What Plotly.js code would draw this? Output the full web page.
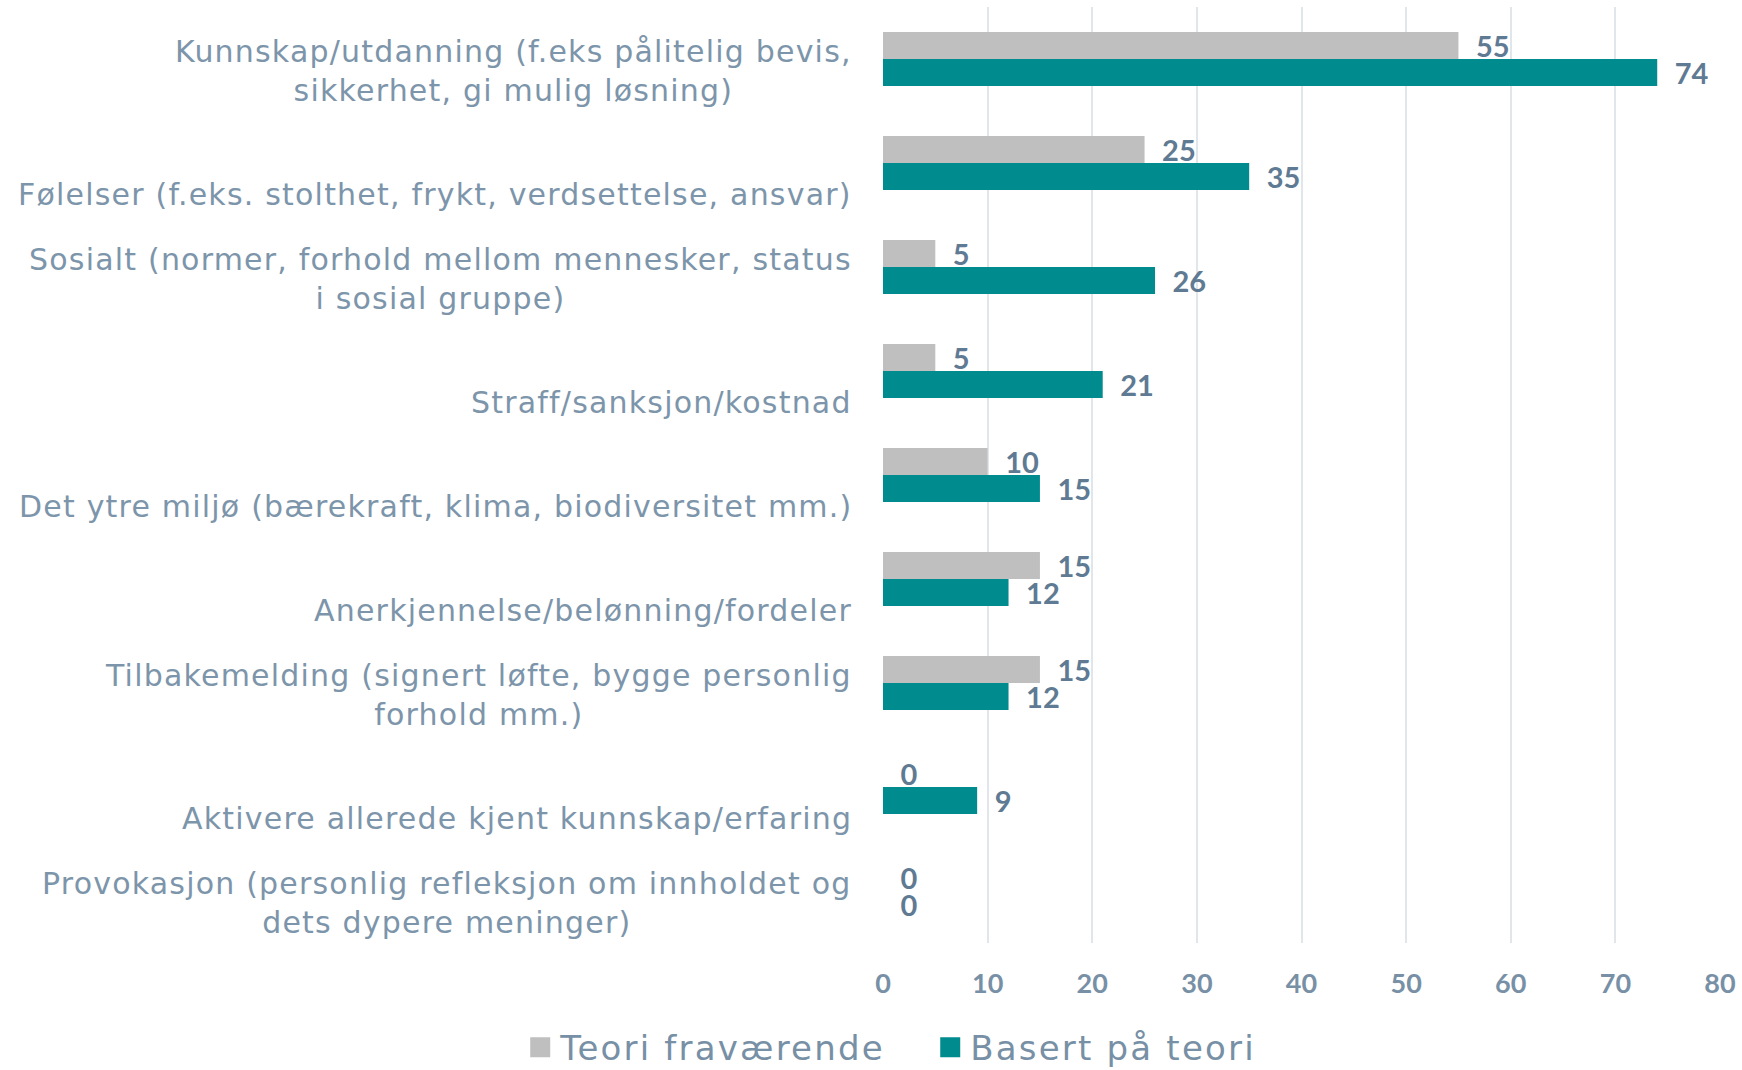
<!DOCTYPE html>
<html>
<head>
<meta charset="utf-8">
<script src="https://cdn.plot.ly/plotly-3.0.1.min.js"></script>
<style>
html,body{margin:0;padding:0;background:#fff;}
#chart{width:1742px;height:1070px;}
.annotation-text{letter-spacing:1.2px;}
.legendtext{letter-spacing:2.2px;}
.legend .legendpoints path{d:path("M10,10H-10V-10H10Z");}
</style>
</head>
<body>
<div id="chart"></div>
<script>
const categories = [
  "Kunnskap/utdanning (f.eks pålitelig bevis,<br>sikkerhet, gi mulig løsning)",
  "Følelser (f.eks. stolthet, frykt, verdsettelse, ansvar)",
  "Sosialt (normer, forhold mellom mennesker, status<br>i sosial gruppe)",
  "Straff/sanksjon/kostnad",
  "Det ytre miljø (bærekraft, klima, biodiversitet mm.)",
  "Anerkjennelse/belønning/fordeler",
  "Tilbakemelding (signert løfte, bygge personlig<br>forhold mm.)",
  "Aktivere allerede kjent kunnskap/erfaring",
  "Provokasjon (personlig refleksjon om innholdet og<br>dets dypere meninger)"
];
const teoriFravaerende = [55, 25, 5, 5, 10, 15, 15, 0, 0];
const basertPaaTeori = [74, 35, 26, 21, 15, 12, 12, 9, 0];
const seriesNames = ["Teori fraværende", "Basert på teori"];
const xTicks = [0, 10, 20, 30, 40, 50, 60, 70, 80];

const labelFont = {family: "Lato, sans-serif", size: 29, color: "#5f7a93", weight: 700};

const traces = [
  {
    type: "bar", orientation: "h", name: seriesNames[0],
    x: teoriFravaerende, y: categories,
    marker: {color: "#bfbfbf"},
    texttemplate: "\u2002%{x}",
    textposition: "outside", cliponaxis: false, constraintext: "none",
    textfont: labelFont, hoverinfo: "x+name"
  },
  {
    type: "bar", orientation: "h", name: seriesNames[1],
    x: basertPaaTeori, y: categories,
    marker: {color: "#008b8f"},
    texttemplate: "\u2002%{x}",
    textposition: "outside", cliponaxis: false, constraintext: "none",
    textfont: labelFont, hoverinfo: "x+name"
  }
];

const annotations = categories.map((c, i) => ({
  xref: "paper", yref: "y", x: 0, y: i,
  xanchor: "right", yanchor: "bottom", align: "center",
  xshift: -29, yshift: -51,
  text: c, showarrow: false,
  font: {family: "DejaVu Sans, Verdana, sans-serif", size: 30, color: "#7d95aa"}
}));

const layout = {
  width: 1742, height: 1070,
  margin: {l: 883, r: 22, t: 7, b: 127, pad: 0},
  paper_bgcolor: "#ffffff", plot_bgcolor: "#ffffff",
  barmode: "group", bargap: 0.48, bargroupgap: 0,
  showlegend: true,
  legend: {
    orientation: "h", xref: "container", yref: "container",
    x: 0.534, xanchor: "center", y: 0.021, yanchor: "middle",
    font: {family: "DejaVu Sans, Verdana, sans-serif", size: 34, color: "#7790a5"},
    itemwidth: 30, traceorder: "normal", entrywidth: 365, entrywidthmode: "pixels"
  },
  xaxis: {
    range: [0, 80], tickvals: xTicks, ticktext: xTicks.map(String),
    showgrid: true, gridcolor: "#e1e6eb", gridwidth: 2,
    zeroline: false, showline: false, ticks: "",
    ticklabelstandoff: 22,
    tickfont: {family: "Lato, sans-serif", size: 27, color: "#7890a6", weight: 700},
    fixedrange: true
  },
  yaxis: {
    type: "category", autorange: "reversed",
    showticklabels: false, showgrid: false, zeroline: false, showline: false, ticks: "",
    fixedrange: true
  },
  annotations: annotations
};

Plotly.newPlot("chart", traces, layout, {displayModeBar: false, responsive: false});
</script>
</body>
</html>
